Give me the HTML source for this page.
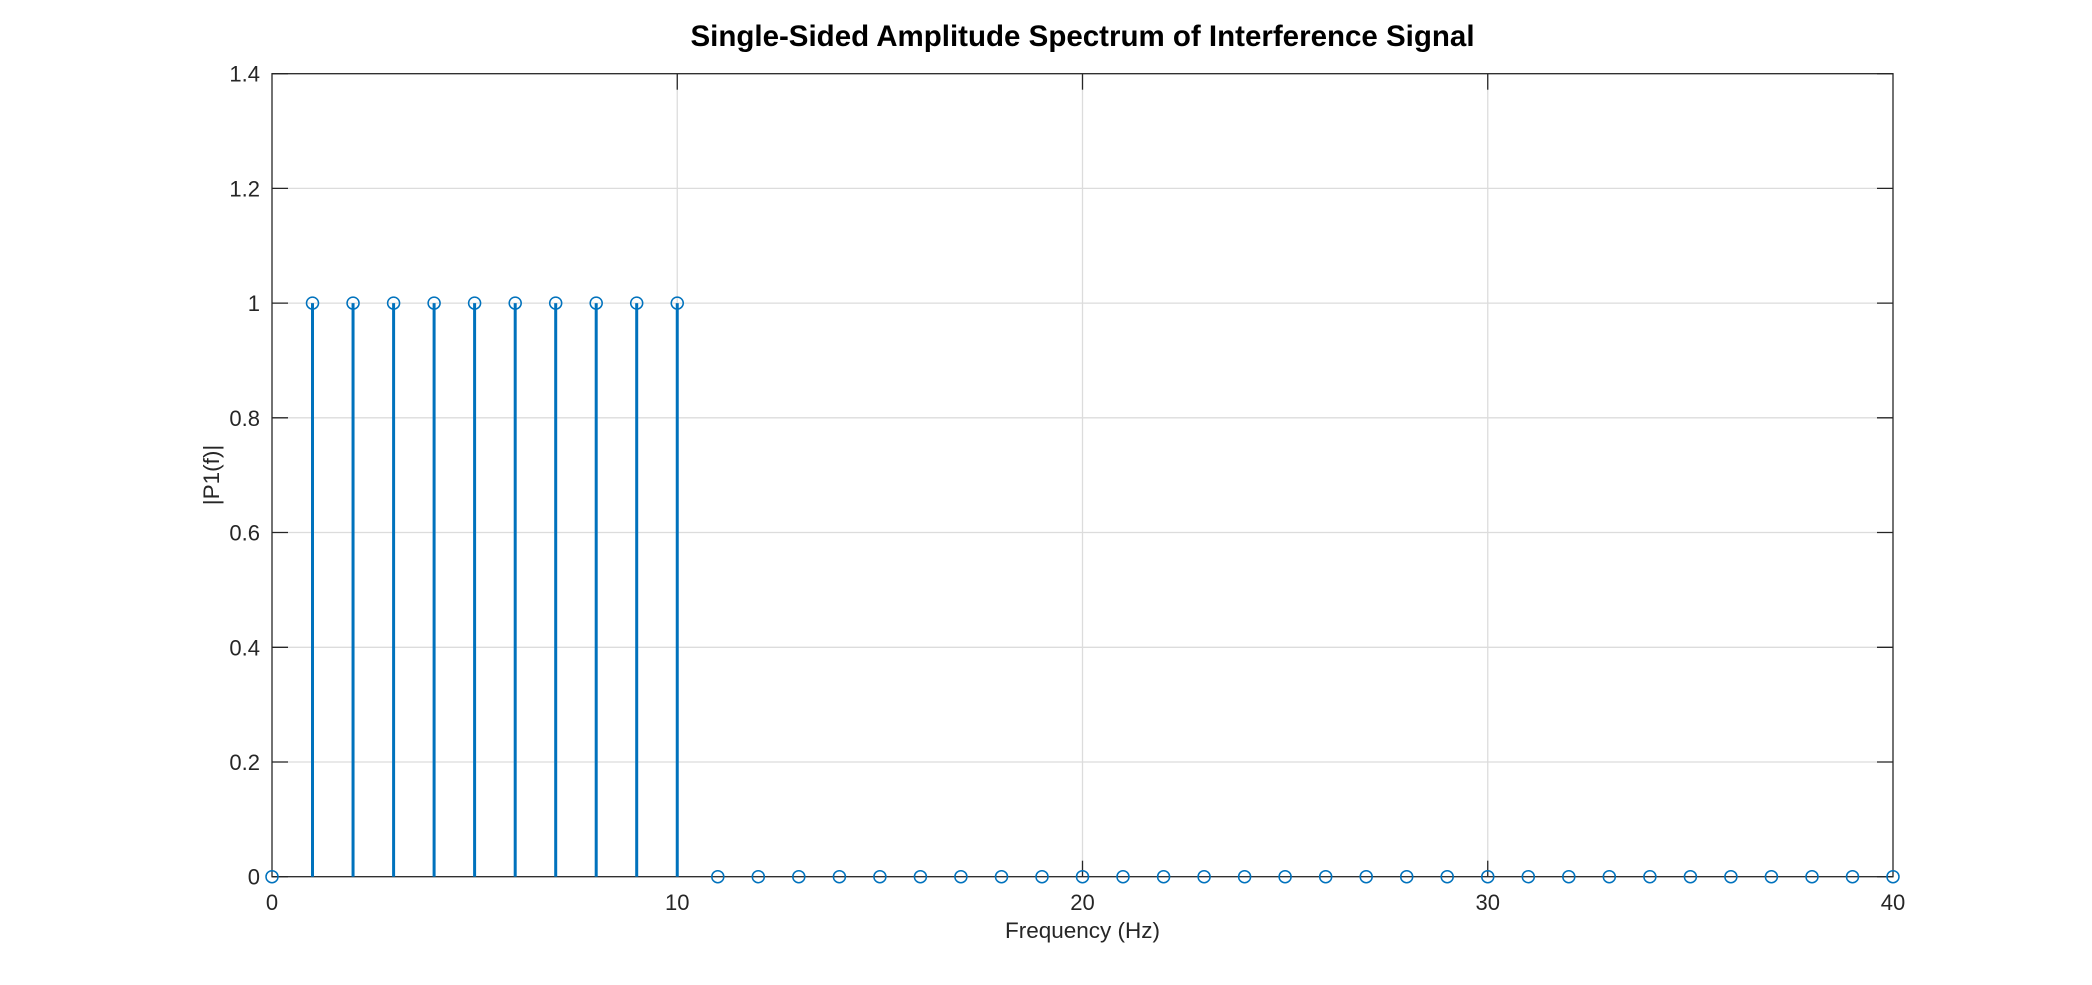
<!DOCTYPE html>
<html><head><meta charset="utf-8"><style>html,body{margin:0;padding:0;background:#fff}svg{display:block}</style></head>
<body>
<svg width="2092" height="985" viewBox="0 0 2092 985" xmlns="http://www.w3.org/2000/svg" font-family="Liberation Sans, sans-serif">
<rect width="2092" height="985" fill="#fff"/>
<g stroke="#dcdcdc" stroke-width="1.3">
<line x1="677.25" y1="73.7" x2="677.25" y2="876.7"/><line x1="1082.5" y1="73.7" x2="1082.5" y2="876.7"/><line x1="1487.75" y1="73.7" x2="1487.75" y2="876.7"/>
<line x1="272" y1="762" x2="1893" y2="762"/><line x1="272" y1="647.3" x2="1893" y2="647.3"/><line x1="272" y1="532.5" x2="1893" y2="532.5"/><line x1="272" y1="417.8" x2="1893" y2="417.8"/><line x1="272" y1="303.1" x2="1893" y2="303.1"/><line x1="272" y1="188.4" x2="1893" y2="188.4"/>
</g>
<g stroke="#262626" stroke-width="1.3">
<line x1="677.25" y1="876.7" x2="677.25" y2="860.7"/><line x1="1082.5" y1="876.7" x2="1082.5" y2="860.7"/><line x1="1487.75" y1="876.7" x2="1487.75" y2="860.7"/>
<line x1="677.25" y1="73.7" x2="677.25" y2="89.7"/><line x1="1082.5" y1="73.7" x2="1082.5" y2="89.7"/><line x1="1487.75" y1="73.7" x2="1487.75" y2="89.7"/>
<path d="M272 762h16M272 647.3h16M272 532.5h16M272 417.8h16M272 303.1h16M272 188.4h16M272 876.7h16M272 73.7h16"/>
<path d="M1893 762h-16M1893 647.3h-16M1893 532.5h-16M1893 417.8h-16M1893 303.1h-16M1893 188.4h-16M1893 876.7h-16M1893 73.7h-16"/>
<rect x="272" y="73.7" width="1621" height="803" fill="none"/>
</g>
<g stroke="#0072bd" stroke-width="3">
<path d="M312.5 876.7V303.1M353.05 876.7V303.1M393.6 876.7V303.1M434.1 876.7V303.1M474.6 876.7V303.1M515.2 876.7V303.1M555.7 876.7V303.1M596.2 876.7V303.1M636.7 876.7V303.1M677.25 876.7V303.1"/>
</g>
<g stroke="#0072bd" stroke-width="1.5" fill="none">
<circle cx="312.5" cy="303.1" r="6"/><circle cx="353.05" cy="303.1" r="6"/><circle cx="393.6" cy="303.1" r="6"/><circle cx="434.1" cy="303.1" r="6"/><circle cx="474.6" cy="303.1" r="6"/><circle cx="515.2" cy="303.1" r="6"/><circle cx="555.7" cy="303.1" r="6"/><circle cx="596.2" cy="303.1" r="6"/><circle cx="636.7" cy="303.1" r="6"/><circle cx="677.25" cy="303.1" r="6"/>
<circle cx="272" cy="876.7" r="6"/><circle cx="717.8" cy="876.7" r="6"/><circle cx="758.3" cy="876.7" r="6"/><circle cx="798.8" cy="876.7" r="6"/><circle cx="839.4" cy="876.7" r="6"/><circle cx="879.9" cy="876.7" r="6"/><circle cx="920.4" cy="876.7" r="6"/><circle cx="960.9" cy="876.7" r="6"/><circle cx="1001.5" cy="876.7" r="6"/><circle cx="1042" cy="876.7" r="6"/><circle cx="1082.5" cy="876.7" r="6"/><circle cx="1123" cy="876.7" r="6"/><circle cx="1163.6" cy="876.7" r="6"/><circle cx="1204.1" cy="876.7" r="6"/><circle cx="1244.6" cy="876.7" r="6"/><circle cx="1285.1" cy="876.7" r="6"/><circle cx="1325.7" cy="876.7" r="6"/><circle cx="1366.2" cy="876.7" r="6"/><circle cx="1406.7" cy="876.7" r="6"/><circle cx="1447.2" cy="876.7" r="6"/><circle cx="1487.75" cy="876.7" r="6"/><circle cx="1528.3" cy="876.7" r="6"/><circle cx="1568.8" cy="876.7" r="6"/><circle cx="1609.3" cy="876.7" r="6"/><circle cx="1649.9" cy="876.7" r="6"/><circle cx="1690.4" cy="876.7" r="6"/><circle cx="1730.9" cy="876.7" r="6"/><circle cx="1771.4" cy="876.7" r="6"/><circle cx="1812" cy="876.7" r="6"/><circle cx="1852.5" cy="876.7" r="6"/><circle cx="1893" cy="876.7" r="6"/>
</g>
<g fill="#262626" font-size="22" text-anchor="middle">
<text x="272" y="910">0</text><text x="677.25" y="910">10</text><text x="1082.5" y="910">20</text><text x="1487.75" y="910">30</text><text x="1893" y="910">40</text>
</g>
<g fill="#262626" font-size="22" text-anchor="end">
<text x="260" y="884.7">0</text><text x="260" y="770">0.2</text><text x="260" y="655.3">0.4</text><text x="260" y="540.5">0.6</text><text x="260" y="425.8">0.8</text><text x="260" y="311.1">1</text><text x="260" y="196.4">1.2</text><text x="260" y="81.7">1.4</text>
</g>
<text x="1082.5" y="938" font-size="22.5" fill="#262626" text-anchor="middle">Frequency (Hz)</text>
<text transform="translate(219,475) rotate(-90)" font-size="22.5" fill="#262626" text-anchor="middle">|P1(f)|</text>
<text x="1082.5" y="46" font-size="29.5" font-weight="bold" fill="#000" text-anchor="middle">Single-Sided Amplitude Spectrum of Interference Signal</text>
</svg>
</body></html>
